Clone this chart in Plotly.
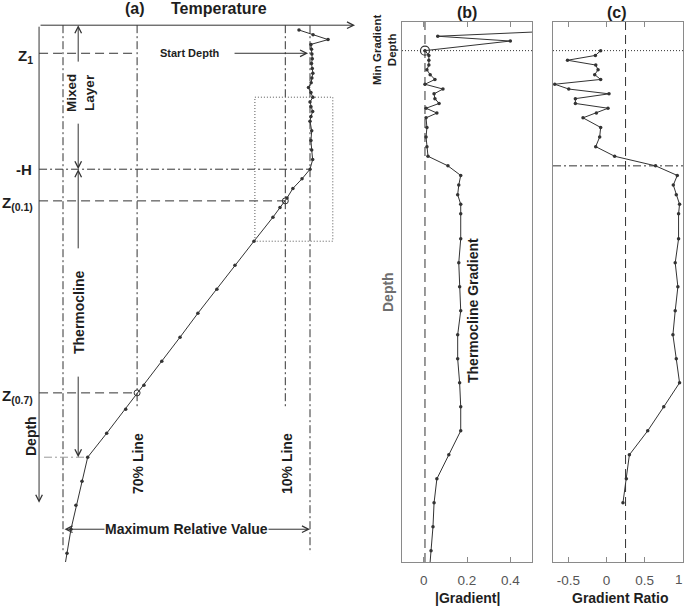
import plotly.graph_objects as go

# ---------------- data ----------------
# (a) temperature profile: depth (m) and temperature (deg C)
temp_depth = [1, 2, 3, 4, 5, 6, 7, 8, 9, 10, 11, 12, 13, 14, 15, 16, 17, 18, 19, 20,
              22, 24, 26, 28, 30, 32, 34, 36, 38, 40,
              45, 50, 55, 60, 65, 70, 75, 80, 85, 90, 95, 100, 105, 110, 115]
temp_value = [27.42, 28.16, 28.95, 28.05, 28.08, 28.10, 28.12, 28.08, 28.12, 28.15,
              28.10, 28.06, 27.92, 28.05, 28.15, 28.00, 28.05, 28.14, 28.05, 28.00,
              28.09, 28.05, 28.09, 28.14, 28.00, 27.58, 27.10, 26.79, 26.42, 26.05,
              25.05, 24.05, 23.10, 22.10, 21.16, 20.20, 19.26, 18.30, 17.30, 16.30,
              16.00, 15.68, 15.42, 15.21, 15.00]

# (b) absolute gradient
grad_depth = [1.0, 2.3, 3.3, 5.3, 6.3, 7.3, 8.3, 9.3, 10.3, 11.3, 12.3, 13.3, 14.3, 15.3,
              16.3, 17.3, 18.3, 19.3, 21.3, 23.3, 25.3, 27.3, 29.3, 31.3, 33.3, 35.3,
              37.3, 39.3, 44.5, 49.5, 54.5, 59.5, 64.5, 69.5, 74.5, 79.5, 84.5, 89.5,
              94.5, 99.5, 104.5, 109.5, 114.5]
grad_value = [0.72, 0.065, 0.40, 0.006, 0.024, 0.024, 0.024, 0.015, 0.03, 0.052, 0.006,
              0.089, 0.048, 0.052, 0.071, 0.011, 0.061, 0.011, 0.015, 0.011, 0.015,
              0.020, 0.112, 0.171, 0.162, 0.157, 0.171, 0.171, 0.171, 0.162, 0.166,
              0.171, 0.157, 0.157, 0.166, 0.171, 0.171, 0.116, 0.061, 0.048, 0.043,
              0.034, 0.025]

# (c) gradient ratio
ratio_depth = [5.3, 6.3, 7.3, 8.3, 9.3, 10.3, 11.3, 12.3, 13.3, 14.3, 15.3, 16.3, 17.3,
               18.3, 19.3, 21.3, 23.3, 25.3, 27.3, 29.3, 31.3, 33.3, 35.3, 37.3, 39.3,
               44.5, 49.5, 54.5, 59.5, 64.5, 69.5, 74.5, 79.5, 84.5, 89.5, 94.5, 99.5]
ratio_value = [-0.076, -0.145, -0.51, -0.14, -0.11, -0.154, -0.076, -0.677, -0.494, 0.033,
               -0.407, -0.407, 0.02, -0.132, -0.307, -0.076, -0.089, -0.141, 0.107, 0.643,
               0.927, 0.875, 0.914, 0.957, 0.944, 0.944, 0.90, 0.935, 0.90, 0.87, 0.914,
               0.957, 0.75, 0.54, 0.30, 0.26, 0.216]

grad_ticks = [0, 0.2, 0.4]
grad_ticklabels = ["0", "0.2", "0.4"]
ratio_ticks = [-0.5, 0, 0.5, 1]
ratio_ticklabels = ["-0.5", "0", "0.5", "1"]

# reference values
Z1_DEPTH = 5.85
H_DEPTH = 30.0
Z01_DEPTH, Z01_TEMP = 36.6, 26.7
Z07_DEPTH, Z07_TEMP = 76.6, 18.9
THERMO_BOTTOM = 90.0
T_MIN_LINE, T_MAX_LINE = 15.0, 28.0
LINE70, LINE10 = 18.9, 26.7
BOX_T = [25.1, 29.2]
BOX_D = [15.0, 45.0]
MIN_GRAD_DEPTH, MIN_GRAD = 5.3, 0.006
RATIO_THRESH = 0.25
RATIO_CROSS_DEPTH = 29.3

# ---------------- layout helpers ----------------
W, H = 685, 606
FONT = "Liberation Sans, Arial, sans-serif"
INK = "#1e1e1e"
LINE = "#333333"
AXC = "#8a8a8a"
DASHDOT = "8px,3px,2px,3px"
DASH = "9px,5px"
DOT = "1px,2px"

T_AX_LEFT, T_AX_RIGHT = 13.74, 30.37
DEPTH_ARROW_END = 99.5
ML_X = 15.8   # x position of the mixed-layer / thermocline arrows
DEPTH_RANGE = [111.83, -0.667]
YDOM = [1 - 562 / H, 1 - 22 / H]


def px(p):
    return p / W


def py(p):
    return 1 - p / H


fig = go.Figure()

fig.add_trace(go.Scatter(x=temp_value, y=temp_depth, xaxis="x", yaxis="y",
                         mode="lines+markers", line=dict(color=LINE, width=1),
                         marker=dict(size=3.5, color=LINE)))
fig.add_trace(go.Scatter(x=[Z01_TEMP, Z07_TEMP], y=[Z01_DEPTH, Z07_DEPTH], xaxis="x", yaxis="y",
                         mode="markers",
                         marker=dict(symbol="circle-open", size=6, color=LINE, line=dict(width=1))))
fig.add_trace(go.Scatter(x=grad_value, y=grad_depth, xaxis="x2", yaxis="y2",
                         mode="lines+markers", line=dict(color=LINE, width=1),
                         marker=dict(size=3.5, color=LINE)))
fig.add_trace(go.Scatter(x=[MIN_GRAD], y=[MIN_GRAD_DEPTH], xaxis="x2", yaxis="y2",
                         mode="markers",
                         marker=dict(symbol="circle-open", size=9, color=LINE, line=dict(width=1.2))))
fig.add_trace(go.Scatter(x=ratio_value, y=ratio_depth, xaxis="x3", yaxis="y3",
                         mode="lines+markers", line=dict(color=LINE, width=1),
                         marker=dict(size=3.5, color=LINE)))

shapes = []


def seg(xref, yref, x0, y0, x1, y1, dash, color=LINE, width=1):
    shapes.append(dict(type="line", xref=xref, yref=yref, x0=x0, y0=y0, x1=x1, y1=y1,
                       line=dict(color=color, width=width, dash=dash), layer="below"))


# panel (a) reference lines
seg("x", "y", T_MIN_LINE, 0, T_MIN_LINE, 110, DASHDOT)
seg("x", "y", LINE70, 0, LINE70, 80, DASHDOT)
seg("x", "y", LINE10, 0, LINE10, 80, DASHDOT)
seg("x", "y", T_MAX_LINE, 0, T_MAX_LINE, 110, DASHDOT)
seg("x", "y", T_AX_LEFT, Z1_DEPTH, LINE70, Z1_DEPTH, DASH)
seg("x", "y", T_AX_LEFT, H_DEPTH, T_MAX_LINE, H_DEPTH, DASHDOT)
seg("x", "y", T_AX_LEFT, Z01_DEPTH, Z01_TEMP, Z01_DEPTH, DASH)
seg("x", "y", T_AX_LEFT, Z07_DEPTH, Z07_TEMP, Z07_DEPTH, DASH)
seg("x", "y", 14.0, THERMO_BOTTOM, 16.3, THERMO_BOTTOM, DASHDOT, color="#9a9a9a")
shapes.append(dict(type="rect", xref="x", yref="y", x0=BOX_T[0], x1=BOX_T[1],
                   y0=BOX_D[0], y1=BOX_D[1], line=dict(color="#555555", width=1, dash=DOT),
                   layer="below"))

# panel (b)
seg("x2", "y2 domain", MIN_GRAD, 0, MIN_GRAD, 1, DASH)
seg("x2 domain", "y2", 0, MIN_GRAD_DEPTH, 1, MIN_GRAD_DEPTH, DOT)
# panel (c)
seg("x3", "y3 domain", RATIO_THRESH, 0, RATIO_THRESH, 1, DASH)
seg("x3 domain", "y3", 0, MIN_GRAD_DEPTH, 1, MIN_GRAD_DEPTH, DOT)
seg("x3 domain", "y3", 0, RATIO_CROSS_DEPTH, 1, RATIO_CROSS_DEPTH, DASHDOT)

annotations = []


def arrow(x_head, y_head, x_tail, y_tail, side="end"):
    annotations.append(dict(xref="x", yref="y", axref="x", ayref="y",
                            x=x_head, y=y_head, ax=x_tail, ay=y_tail, text="",
                            showarrow=True, arrowhead=5, startarrowhead=5, arrowside=side,
                            arrowsize=1.3, startarrowsize=1.3, arrowwidth=1,
                            arrowcolor=LINE, standoff=0, startstandoff=0))


# axis arrows of panel (a)
arrow(T_AX_RIGHT, 0, T_AX_LEFT, 0)
arrow(T_AX_LEFT, DEPTH_ARROW_END, T_AX_LEFT, 0)
# mixed layer / thermocline extents
arrow(ML_X, 0, ML_X, 7.9)
arrow(ML_X, H_DEPTH, ML_X, 20.2)
arrow(ML_X, H_DEPTH, ML_X, 46.8)
arrow(ML_X, THERMO_BOTTOM, ML_X, 72.9)
# start depth
arrow(27.9, Z1_DEPTH, 23.95, Z1_DEPTH)
# maximum relative value
arrow(T_MAX_LINE, 105, T_MIN_LINE, 105, side="end+start")


def label(text, x, y, size=14, angle=0, color=INK, bold=True, xanchor="center",
          bg=None):
    t = "<b>%s</b>" % text if bold else text
    d = dict(xref="paper", yref="paper", x=px(x), y=py(y), text=t, showarrow=False,
             xanchor=xanchor, yanchor="middle", textangle=angle,
             font=dict(family=FONT, size=size, color=color))
    if bg:
        d["bgcolor"] = bg
        d["borderpad"] = 0
    annotations.append(d)


label("(a)", 135, 8, size=16)
label("Temperature", 219, 8, size=16)
label("(b)", 467, 12, size=16)
label("(c)", 617, 12, size=16)
label("Start Depth", 190, 53, size=11)
label("Mixed<br>Layer", 80, 93, size=13.5, angle=-90)
label("Thermocline", 79, 313, size=14, angle=-90)
label("Depth", 31, 436, size=14, angle=-90)
label("70% Line", 138, 464, size=14, angle=-90)
label("10% Line", 287, 464, size=14, angle=-90)
label("Maximum Relative Value", 187, 529, size=14, bg="white")
label("Z<sub>1</sub>", 35, 56, size=15, xanchor="right")
label("-H", 34, 169, size=15, xanchor="right")
label("Z<sub>(0.1)</sub>", 35, 203, size=15, xanchor="right")
label("Z<sub>(0.7)</sub>", 35, 396, size=15, xanchor="right")
label("Min Gradient<br>Depth", 384, 50, size=11.5, angle=-90)
label("Depth", 388, 292, size=14, angle=-90, color="#6e6e6e")
label("Thermocline Gradient", 473, 310, size=14, angle=-90)
label("|Gradient|", 467, 598, size=14)
label("Gradient Ratio", 620, 598, size=14)

TICK_SIZE = 13.5
tickfont = dict(family=FONT, size=TICK_SIZE, color="#555555")

# the last ratio tick label sits on the page edge: draw it as a right-aligned text
# so it does not spill past the page
ratio_axis_text = ratio_ticklabels[:-1] + [""]
annotations.append(dict(xref="paper", yref="paper", x=1.0, y=py(579), xanchor="right",
                        yanchor="middle", text=ratio_ticklabels[-1], showarrow=False,
                        font=tickfont))


def box_x(domain, rng, tv, tt, anchor):
    return dict(domain=domain, range=rng, anchor=anchor, showline=True, linecolor=AXC,
                linewidth=1, mirror="ticks", ticks="inside", ticklen=5, tickcolor=AXC,
                tickvals=tv, ticktext=tt, tickfont=tickfont, showgrid=False,
                zeroline=False, ticklabelstandoff=6, fixedrange=True)


def box_y(anchor):
    return dict(domain=YDOM, range=DEPTH_RANGE, anchor=anchor, showline=True, linecolor=AXC,
                linewidth=1, mirror=True, ticks="", showticklabels=False, showgrid=False,
                zeroline=False, fixedrange=True)


fig.update_layout(
    width=W, height=H, autosize=False,
    margin=dict(l=0, r=0, t=0, b=0, pad=0),
    paper_bgcolor="white", plot_bgcolor="white", showlegend=False,
    xaxis=dict(domain=[px(38.3), px(355.6)], range=[13.7, 30.4], visible=False,
               anchor="y", fixedrange=True),
    yaxis=dict(domain=YDOM, range=DEPTH_RANGE, visible=False, anchor="x", fixedrange=True),
    xaxis2=box_x([px(402), px(532)], [-0.1, 0.5], grad_ticks, grad_ticklabels, "y2"),
    yaxis2=box_y("x2"),
    xaxis3=box_x([px(553), px(683)], [-0.7, 1.002], ratio_ticks, ratio_axis_text, "y3"),
    yaxis3=box_y("x3"),
    shapes=shapes,
    annotations=annotations,
)

post = (
    "document.body.style.margin='0';"
    "document.body.style.overflow='hidden';"
)
fig.write_html("out.html", config={"displayModeBar": False}, post_script=post)
